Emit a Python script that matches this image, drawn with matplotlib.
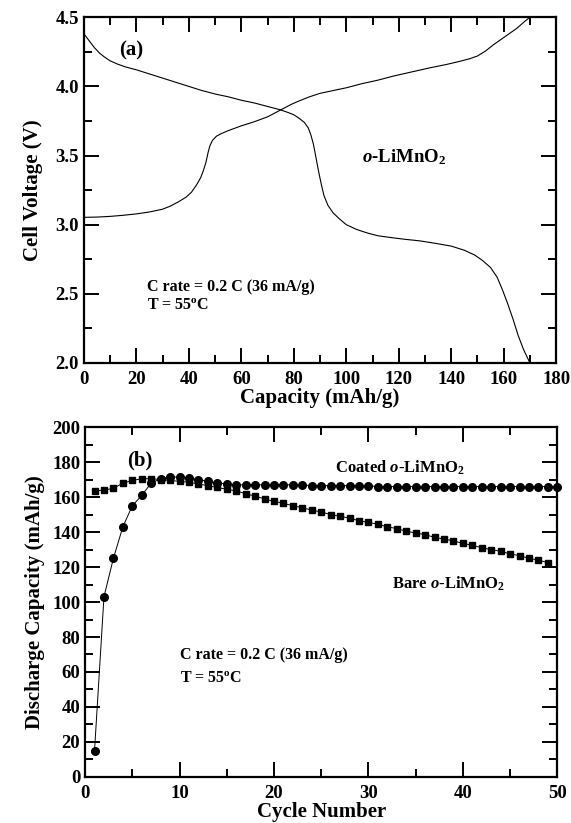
import numpy as np
import matplotlib
matplotlib.use("Agg")
import matplotlib.pyplot as plt
from matplotlib.ticker import MultipleLocator, FormatStrFormatter

plt.rcParams['font.family'] = ['Liberation Serif', 'DejaVu Serif']
plt.rcParams['font.weight'] = 'bold'
plt.rcParams['mathtext.fontset'] = 'custom'
plt.rcParams['mathtext.rm'] = 'Liberation Serif:bold'
plt.rcParams['mathtext.it'] = 'Liberation Serif:bold:italic'
plt.rcParams['mathtext.bf'] = 'Liberation Serif:bold'

# ---------------- panel (a): voltage profiles ----------------
charge_cap = [0, 5, 10, 15, 20, 25, 30, 33, 36, 39, 41, 43, 44.5, 45.5, 46.5, 47.3, 48, 49,
              50.5, 52.5, 55, 60, 65, 70, 73, 76, 79, 82, 86, 90, 95, 100, 106, 112, 118,
              125, 132, 138, 143, 147, 150, 153, 156, 159, 162, 165, 168, 170]
charge_v = [3.053, 3.055, 3.06, 3.068, 3.078, 3.092, 3.112, 3.135, 3.165, 3.2, 3.235, 3.29,
            3.34, 3.39, 3.45, 3.52, 3.57, 3.61, 3.64, 3.66, 3.68, 3.715, 3.745, 3.78, 3.81,
            3.84, 3.87, 3.895, 3.925, 3.95, 3.97, 3.99, 4.02, 4.045, 4.075, 4.105, 4.135,
            4.158, 4.18, 4.2, 4.22, 4.255, 4.3, 4.34, 4.38, 4.42, 4.47, 4.5]

dis_cap = [0, 2, 4, 6, 8, 10, 13, 16, 20, 25, 30, 35, 40, 45, 50, 55, 60, 65, 70, 75, 78,
           80, 82, 84, 85.5, 86.5, 87.5, 88.5, 89.5, 90.5, 91.5, 93, 95, 97.5, 100, 104,
           108, 112, 117, 122, 128, 134, 140, 145, 149, 152, 155, 157.5, 159.5, 161.5,
           163.5, 165.5, 167.5, 169, 170]
dis_v = [4.38, 4.33, 4.28, 4.24, 4.21, 4.185, 4.16, 4.14, 4.12, 4.09, 4.06, 4.03, 4.0, 3.97,
         3.945, 3.925, 3.90, 3.88, 3.855, 3.83, 3.81, 3.795, 3.77, 3.74, 3.70, 3.65, 3.58,
         3.48, 3.38, 3.29, 3.21, 3.14, 3.085, 3.04, 3.0, 2.965, 2.94, 2.92, 2.907, 2.895,
         2.883, 2.865, 2.845, 2.815, 2.78, 2.74, 2.69, 2.62, 2.53, 2.43, 2.32, 2.2, 2.1,
         2.04, 2.0]

# ---------------- panel (b): cycling ----------------
cycles_coated = list(range(1, 51))
cap_coated = [15, 103, 125, 143, 155, 161, 168, 170.5, 171.5, 171.5,
              171, 170, 169, 168, 167.5, 167, 167, 167, 167, 167,
              167, 167, 167, 166.5, 166.5, 166.5, 166.5, 166.5, 166.5, 166.5,
              166, 166, 166, 166, 166, 166, 166, 166, 166, 166,
              166, 166, 166, 166, 166, 166, 166, 166, 166, 166]

cycles_bare = list(range(1, 50))
cap_bare = [163.5, 164, 165, 168, 169.5, 170.5, 170.5, 170, 169.5, 169,
            168.5, 167.5, 166.5, 165.5, 164.5, 163.5, 162, 160.5, 159, 157.5,
            156.5, 155, 154, 152.5, 151.5, 150, 149, 148, 146.5, 145.5,
            144.5, 143, 142, 140.5, 139.5, 138.5, 137, 136, 135, 133.5,
            132.5, 131, 130, 129, 127.5, 126.5, 125, 124, 122.5]

fig = plt.figure(figsize=(5.71, 8.23), dpi=100)
ax1 = fig.add_axes([0.147, 0.559, 0.827, 0.420])
ax2 = fig.add_axes([0.149, 0.056, 0.827, 0.425])

LABEL_FS = 15
TICK_FS = 13.5
NOTE_FS = 11.5


def style_axes(ax):
    for s in ax.spines.values():
        s.set_linewidth(1.6)
    ax.tick_params(which='both', direction='in', top=True, right=True, width=1.4,
                   labelsize=TICK_FS)
    ax.tick_params(which='major', length=11)
    ax.tick_params(which='minor', length=6)
    ax.tick_params(axis='x', pad=6)
    for lab in ax.get_xticklabels() + ax.get_yticklabels():
        lab.set_fontweight('bold')


ax1.plot(charge_cap, charge_v, color='black', lw=0.8)
ax1.plot(dis_cap, dis_v, color='black', lw=0.8)
ax1.set_xlim(0, 180)
ax1.set_ylim(2.0, 4.5)
ax1.xaxis.set_major_locator(MultipleLocator(20))
ax1.xaxis.set_minor_locator(MultipleLocator(10))
ax1.yaxis.set_major_locator(MultipleLocator(0.5))
ax1.yaxis.set_minor_locator(MultipleLocator(0.25))
ax1.yaxis.set_major_formatter(FormatStrFormatter('%.1f'))
style_axes(ax1)
ax1.set_xlabel('Capacity (mAh/g)', fontsize=LABEL_FS, fontweight='bold', labelpad=0)
ax1.set_ylabel('Cell Voltage (V)', fontsize=LABEL_FS, fontweight='bold', labelpad=9)
ax1.text(13.5, 4.26, '(a)', fontsize=15, fontweight='bold', va='center')
ax1.text(106, 3.49, r'$\it{o}$-LiMnO$_2$', fontsize=13.5, fontweight='bold', va='center')
ax1.text(24, 2.55, 'C rate = 0.2 C (36 mA/g)', fontsize=NOTE_FS, fontweight='bold', va='center')
ax1.text(24, 2.41, r'T = 55$^\mathrm{o}$C', fontsize=NOTE_FS, fontweight='bold', va='center')

ax2.plot(cycles_coated, cap_coated, color='black', lw=0.7, marker='o', ms=5.5,
         markeredgecolor='black', markerfacecolor='black', clip_on=False, zorder=3)
ax2.plot(cycles_bare, cap_bare, color='black', lw=0.7, marker='s', ms=5,
         markeredgecolor='black', markerfacecolor='black', clip_on=False, zorder=3)
ax2.set_xlim(0, 50)
ax2.set_ylim(0, 200)
ax2.xaxis.set_major_locator(MultipleLocator(10))
ax2.xaxis.set_minor_locator(MultipleLocator(5))
ax2.yaxis.set_major_locator(MultipleLocator(20))
ax2.yaxis.set_minor_locator(MultipleLocator(10))
style_axes(ax2)
ax2.set_xlabel('Cycle Number', fontsize=LABEL_FS, fontweight='bold', labelpad=0)
ax2.set_ylabel('Discharge Capacity (mAh/g)', fontsize=LABEL_FS, fontweight='bold', labelpad=5)
ax2.text(4.5, 181, '(b)', fontsize=15, fontweight='bold', va='center')
ax2.text(26.5, 177, r'Coated $\it{o}$-LiMnO$_2$', fontsize=12, fontweight='bold', va='center')
ax2.text(32.5, 110.5, r'Bare $\it{o}$-LiMnO$_2$', fontsize=12, fontweight='bold', va='center')
ax2.text(10, 69.5, 'C rate = 0.2 C (36 mA/g)', fontsize=NOTE_FS, fontweight='bold', va='center')
ax2.text(10, 56, r'T = 55$^\mathrm{o}$C', fontsize=NOTE_FS, fontweight='bold', va='center')

fig.savefig('out.png', dpi=100)
